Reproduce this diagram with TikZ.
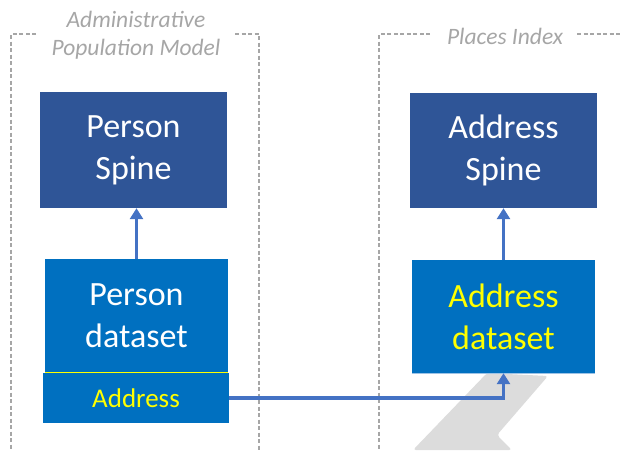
\documentclass[tikz,border=0pt]{standalone}
\usepackage{fontspec}
\setmainfont{Carlito}
\usetikzlibrary{arrows.meta}
\definecolor{spine}{HTML}{2F5597}
\definecolor{data}{HTML}{0070C0}
\definecolor{conn}{HTML}{4472C4}
\definecolor{grp}{HTML}{A6A6A6}
\definecolor{wm}{HTML}{DCDCDC}
\definecolor{ylw}{HTML}{FFFF00}
\definecolor{edge}{HTML}{9DC3E6}
\tikzset{
  spinebox/.style={rectangle, fill=spine, text=white, inner sep=0pt, align=center,
    font=\fontsize{34}{42}\selectfont},
  databox/.style={rectangle, fill=data, inner sep=0pt, align=center,
    font=\fontsize{34}{42}\selectfont},
  grouplabel/.style={text=grp, align=center, font=\itshape\fontsize{23.5}{28}\selectfont},
  groupline/.style={draw=grp, line width=1.3pt, dash pattern=on 4pt off 2.5pt},
  link/.style={draw=conn, line width=3.5pt, -{Triangle[width=13pt,length=11pt]}}
}
\begin{document}
\begin{tikzpicture}[x=1pt,y=-1pt]
\useasboundingbox (0,0) rectangle (621,450);
% faint background mark
\fill[wm, rounded corners=3pt] (487,373) -- (548,376) -- (497,435) -- (512,450) -- (413,450) -- cycle;
% group outlines
\draw[groupline] (36,34) -- (11,34) -- (11,450);
\draw[groupline] (235,34) -- (259,34) -- (259,450);
\draw[groupline] (430,34) -- (379,34) -- (379,450);
\draw[groupline] (577,34) -- (621,34);
\node[grouplabel] (apm) at (136,35) {Administrative\\Population Model};
\node[grouplabel] (pi) at (505,36) {Places Index};
% boxes
\node[spinebox, minimum width=187pt, minimum height=116pt] (ps) at (133.5,150) {Person\\Spine};
\node[spinebox, minimum width=187pt, minimum height=115pt] (as) at (503.5,150.5) {Address\\Spine};
\node[databox, text=white, minimum width=183pt, minimum height=114pt] (pd) at (136.5,316) {Person\\dataset};
\node[databox, text=ylw, minimum width=186pt, minimum height=50pt, font=\fontsize{27}{32}\selectfont] (ab) at (136,398) {Address};
\node[databox, text=ylw, minimum width=183pt, minimum height=113pt] (ad) at (503.5,316.5) {Address\\dataset};
\draw[ylw, line width=1.2pt] ([xshift=2pt]ab.north west) -- ([xshift=-1pt]ab.north east);
\draw[edge, line width=0.8pt] (ad.south west) -- (ad.south east);
% connectors
\draw[link] (pd.north) -- (pd.north |- ps.south);
\draw[link] (ad.north) -- (ad.north |- as.south);
\draw[link] (ab.east) -| (ad.south);
\end{tikzpicture}
\end{document}
